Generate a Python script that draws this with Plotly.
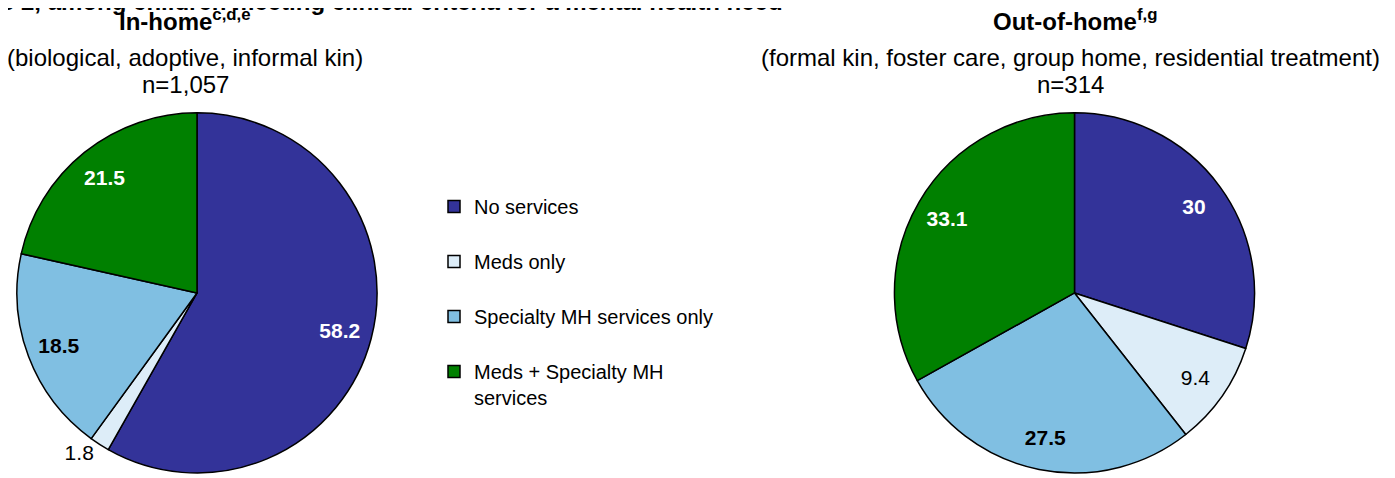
import plotly.graph_objects as go

categories = ["No services", "Meds only", "Specialty MH services only", "Meds + Specialty MH services"]
legend_names = ["No services", "Meds only", "Specialty MH services only", "Meds + Specialty MH<br>services"]
in_home = [58.2, 1.8, 18.5, 21.5]
out_of_home = [30, 9.4, 27.5, 33.1]
in_home_text_colors = ["white", "black", "black", "white"]
out_home_text_colors = ["white", "black", "black", "white"]
in_home_bold = [True, False, True, True]
out_home_bold = [True, False, True, True]
in_home_positions = ["inside", "outside", "inside", "inside"]
out_home_positions = ["inside", "inside", "inside", "inside"]
colors = ["#333399", "#DDEDF8", "#80BFE2", "#008000"]

title_text = "e 2, among children meeting clinical criteria for a mental health need"
left_head = "In-home<sup>c,d,e</sup>"
left_sub = "(biological, adoptive, informal kin)"
left_n = "n=1,057"
right_head = "Out-of-home<sup>f,g</sup>"
right_sub = "(formal kin, foster care, group home, residential treatment)"
right_n = "n=314"

# page body adds an 8px offset; figure sized to fit the window
OFF = 8
W, H = 1395 - OFF, 478 - OFF
FONT = "Liberation Sans, Arial"


def px(x):
    return (x - OFF) / W


def py(y):
    return 1 - (y - OFF) / H


def fmt(vals, bold):
    return [("<b>%s</b>" % v) if b else str(v) for v, b in zip(vals, bold)]


legend_labels = [n + ("<br> " if "<br>" not in n else "") for n in legend_names]

left_dom = dict(x=[px(15), px(379)], y=[0, py(114)])
right_dom = dict(x=[px(892.5), px(1256.5)], y=[0, py(114)])

fig = go.Figure()
for vals, dom, show in [(in_home, left_dom, True), (out_of_home, right_dom, False)]:
    fig.add_trace(go.Pie(
        labels=legend_labels, values=vals, sort=False, direction="clockwise", rotation=0,
        marker=dict(colors=colors, line=dict(color="black", width=1.5)),
        textinfo="none", domain=dom, hoverinfo="label+value", showlegend=show,
    ))

# transparent ring overlay to place the value labels near the rim
for vals, dom, bold, tcol, pos in [
    (in_home, left_dom, in_home_bold, in_home_text_colors, in_home_positions),
    (out_of_home, right_dom, out_home_bold, out_home_text_colors, out_home_positions),
]:
    fig.add_trace(go.Pie(
        labels=legend_labels, values=vals, sort=False, direction="clockwise", rotation=0,
        hole=0.64, marker=dict(colors=["rgba(0,0,0,0)"] * 4, line=dict(width=0)),
        text=fmt(vals, bold), textinfo="text", textposition=pos,
        insidetextorientation="horizontal",
        textfont=dict(family=FONT, size=21, color=tcol),
        outsidetextfont=dict(family=FONT, size=21, color="black"),
        domain=dom, hoverinfo="skip", showlegend=False,
    ))

ann = []


def add(text, xc, yc, size, bold=False, xanchor="center"):
    ann.append(dict(text=("<b>%s</b>" % text) if bold else text, x=px(xc), y=py(yc),
                    xref="paper", yref="paper", xanchor=xanchor, yanchor="middle",
                    showarrow=False, font=dict(family=FONT, size=size, color="black")))


add(title_text, 785, 1.5, 24, bold=True, xanchor="right")
add(left_head, 185, 20, 24, bold=True)
add(left_sub, 185, 58, 24)
add(left_n, 185, 85, 24)
add(right_head, 1075, 20, 24, bold=True)
add(right_sub, 1070, 58, 24)
add(right_n, 1070, 85, 24)

fig.update_layout(
    width=W, height=H, margin=dict(l=0, r=0, t=0, b=0),
    paper_bgcolor="white", plot_bgcolor="white",
    annotations=ann,
    legend=dict(x=px(434), y=py(189), xanchor="left", yanchor="top",
                font=dict(family=FONT, size=20, color="black"), valign="top",
                bgcolor="rgba(0,0,0,0)", traceorder="normal"),
)
fig.write_html("out.html")
